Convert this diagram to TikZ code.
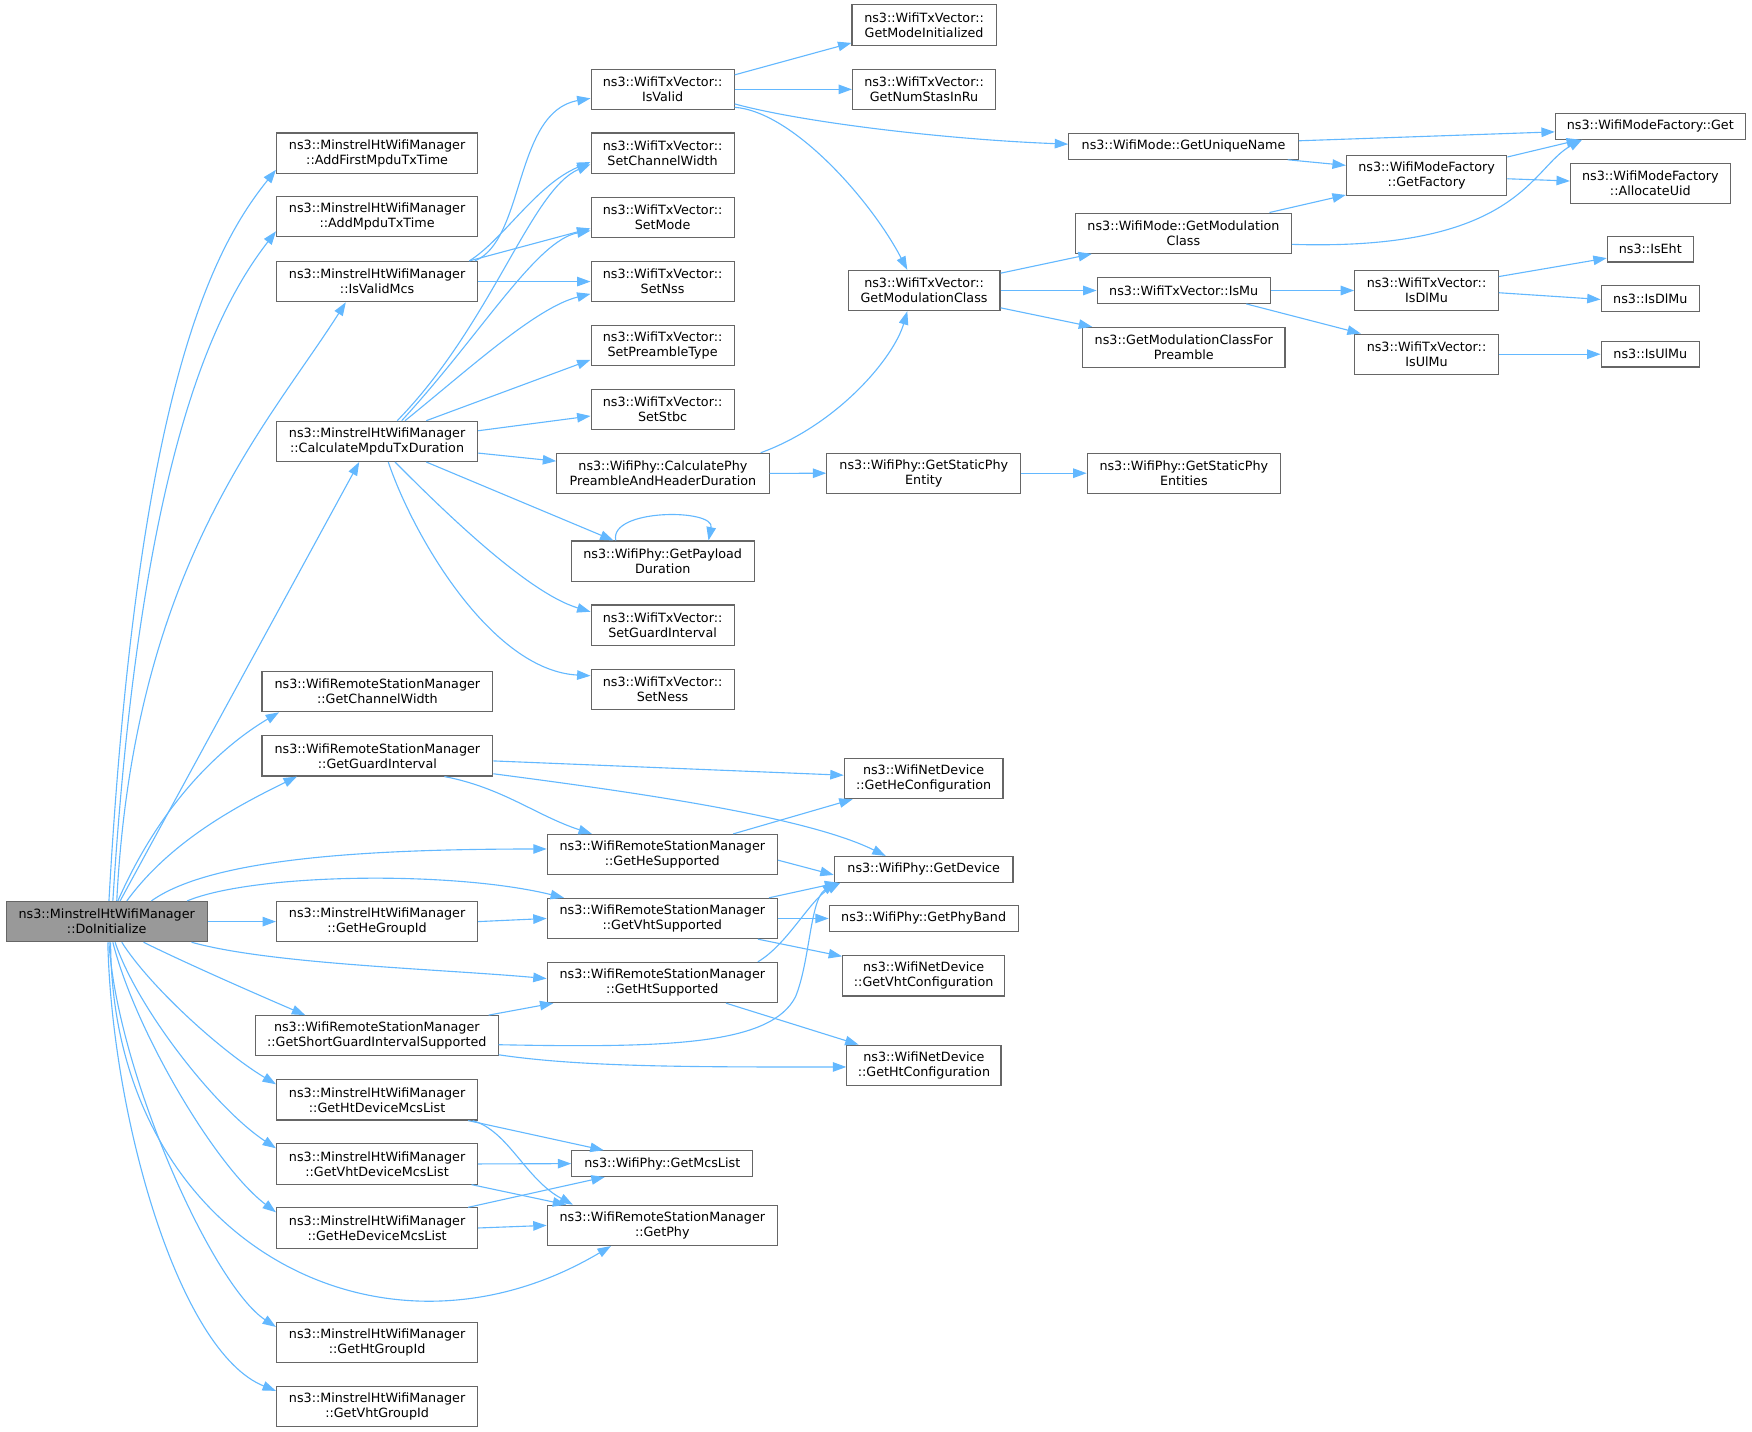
\documentclass[tikz,border=0pt]{standalone}
\usepackage{fontspec}
\setmainfont{DejaVu Sans}
\usetikzlibrary{arrows.meta}
\definecolor{edgeblue}{HTML}{63B8FF}
\definecolor{boxgray}{HTML}{666666}
\definecolor{rootfill}{HTML}{999999}
\begin{document}
\begin{tikzpicture}[x=1pt,y=1pt,
    fn/.style={draw=boxgray, fill=white, line width=1pt, align=center, inner sep=1pt,
      minimum height=36pt, font=\fontsize{11.4}{13.4}\selectfont},
    fn1/.style={fn, minimum height=23pt},
    edge/.style={draw=edgeblue, line width=1pt, -{Triangle[length=12pt,width=8.5pt]}}]
    \useasboundingbox (0,0) rectangle (1568,-1281.6);
    % column of the caller and its direct callees
    \node[fn, fill=rootfill, minimum width=180pt] (doinit) at (95.5,-824.8) {ns3::MinstrelHtWifiManager\\::DoInitialize};
    \node[fn, minimum width=180pt] (addfirst) at (337.5,-137) {ns3::MinstrelHtWifiManager\\::AddFirstMpduTxTime};
    \node[fn, minimum width=180pt] (addmpdu) at (337.5,-194) {ns3::MinstrelHtWifiManager\\::AddMpduTxTime};
    \node[fn, minimum width=180pt] (isvalidmcs) at (337.5,-252) {ns3::MinstrelHtWifiManager\\::IsValidMcs};
    \node[fn, minimum width=180pt] (calcmpdu) at (337.5,-395) {ns3::MinstrelHtWifiManager\\::CalculateMpduTxDuration};
    \node[fn, minimum width=206.5pt] (chanwidth) at (337.75,-619) {ns3::WifiRemoteStationManager\\::GetChannelWidth};
    \node[fn, minimum width=206.5pt] (guardint) at (337.75,-676.5) {ns3::WifiRemoteStationManager\\::GetGuardInterval};
    \node[fn, minimum width=180pt] (hegroup) at (337.5,-824.8) {ns3::MinstrelHtWifiManager\\::GetHeGroupId};
    \node[fn, minimum width=217.2pt] (shortgi) at (337.2,-927) {ns3::WifiRemoteStationManager\\::GetShortGuardIntervalSupported};
    \node[fn, minimum width=180pt] (htdevice) at (337.5,-984.4) {ns3::MinstrelHtWifiManager\\::GetHtDeviceMcsList};
    \node[fn, minimum width=180pt] (vhtdevice) at (337.5,-1041.7) {ns3::MinstrelHtWifiManager\\::GetVhtDeviceMcsList};
    \node[fn, minimum width=180pt] (hedevice) at (337.5,-1099) {ns3::MinstrelHtWifiManager\\::GetHeDeviceMcsList};
    \node[fn, minimum width=180pt] (htgroup) at (337.5,-1201.6) {ns3::MinstrelHtWifiManager\\::GetHtGroupId};
    \node[fn, minimum width=180pt] (vhtgroup) at (337.5,-1258.8) {ns3::MinstrelHtWifiManager\\::GetVhtGroupId};
    % second level
    \node[fn, minimum width=128pt] (isvalid) at (593,-80) {ns3::WifiTxVector::\\IsValid};
    \node[fn, minimum width=128pt] (setchw) at (593,-137) {ns3::WifiTxVector::\\SetChannelWidth};
    \node[fn, minimum width=128pt] (setmode) at (593,-194.4) {ns3::WifiTxVector::\\SetMode};
    \node[fn, minimum width=128pt] (setnss) at (593,-252) {ns3::WifiTxVector::\\SetNss};
    \node[fn, minimum width=128pt] (setpre) at (593,-309) {ns3::WifiTxVector::\\SetPreambleType};
    \node[fn, minimum width=128pt] (setstbc) at (593,-366.3) {ns3::WifiTxVector::\\SetStbc};
    \node[fn, minimum width=190pt] (calcphy) at (593.3,-423.7) {ns3::WifiPhy::CalculatePhy\\PreambleAndHeaderDuration};
    \node[fn, minimum width=164pt] (payload) at (593.1,-502.2) {ns3::WifiPhy::GetPayload\\Duration};
    \node[fn, minimum width=128pt] (setgi) at (593,-559.5) {ns3::WifiTxVector::\\SetGuardInterval};
    \node[fn, minimum width=128pt] (setness) at (593,-616.8) {ns3::WifiTxVector::\\SetNess};
    \node[fn, minimum width=206pt] (hesup) at (592.75,-764.8) {ns3::WifiRemoteStationManager\\::GetHeSupported};
    \node[fn, minimum width=206pt] (vhtsup) at (592.75,-822) {ns3::WifiRemoteStationManager\\::GetVhtSupported};
    \node[fn, minimum width=206pt] (htsup) at (592.75,-879.3) {ns3::WifiRemoteStationManager\\::GetHtSupported};
    \node[fn1, minimum width=162pt] (mcslist) at (592.75,-1041.4) {ns3::WifiPhy::GetMcsList};
    \node[fn, minimum width=206pt] (getphy) at (592.75,-1096.7) {ns3::WifiRemoteStationManager\\::GetPhy};
    % third level
    \node[fn, minimum width=129pt] (modeinit) at (827,-22.4) {ns3::WifiTxVector::\\GetModeInitialized};
    \node[fn, minimum width=128pt] (numstas) at (827,-80) {ns3::WifiTxVector::\\GetNumStasInRu};
    \node[fn, minimum width=136pt] (txmodclass) at (827,-260) {ns3::WifiTxVector::\\GetModulationClass};
    \node[fn, minimum width=173.5pt] (staticent) at (826.75,-423.5) {ns3::WifiPhy::GetStaticPhy\\Entity};
    \node[fn, minimum width=142pt] (heconf) at (826.6,-696.8) {ns3::WifiNetDevice\\::GetHeConfiguration};
    \node[fn1, minimum width=160pt] (getdevice) at (826.65,-778) {ns3::WifiPhy::GetDevice};
    \node[fn1, minimum width=169pt] (phyband) at (826.65,-822) {ns3::WifiPhy::GetPhyBand};
    \node[fn, minimum width=145pt] (vhtconf) at (826.65,-873.4) {ns3::WifiNetDevice\\::GetVhtConfiguration};
    \node[fn, minimum width=138pt] (htconf) at (826.9,-953.4) {ns3::WifiNetDevice\\::GetHtConfiguration};
    % fourth level and beyond
    \node[fn1, minimum width=205.5pt] (uniquename) at (1059.25,-131) {ns3::WifiMode::GetUniqueName};
    \node[fn, minimum width=193pt] (modemodclass) at (1059.15,-208.7) {ns3::WifiMode::GetModulation\\Class};
    \node[fn1, minimum width=155pt] (ismu) at (1059.4,-260) {ns3::WifiTxVector::IsMu};
    \node[fn, minimum width=181pt] (modclasspre) at (1059.5,-311) {ns3::GetModulationClassFor\\Preamble};
    \node[fn, minimum width=173pt] (staticents) at (1059.5,-423.5) {ns3::WifiPhy::GetStaticPhy\\Entities};
    \node[fn, minimum width=143.6pt] (getfactory) at (1276.8,-157) {ns3::WifiModeFactory\\::GetFactory};
    \node[fn, minimum width=128.6pt] (isdlmutx) at (1276.7,-260) {ns3::WifiTxVector::\\IsDlMu};
    \node[fn, minimum width=128.6pt] (isulmutx) at (1276.7,-317) {ns3::WifiTxVector::\\IsUlMu};
    \node[fn1, minimum width=170pt] (get) at (1477,-113) {ns3::WifiModeFactory::Get};
    \node[fn, minimum width=143pt] (allocuid) at (1477,-164) {ns3::WifiModeFactory\\::AllocateUid};
    \node[fn1, minimum width=77pt] (iseht) at (1477,-223) {ns3::IsEht};
    \node[fn1, minimum width=88pt] (isdlmu) at (1477,-267) {ns3::IsDlMu};
    \node[fn1, minimum width=88pt] (isulmu) at (1477,-317) {ns3::IsUlMu};
    % straight calls
    \foreach \a/\b in {doinit.east/hegroup.west, isvalidmcs.east/setnss.west,
      isvalid.east/numstas.west, txmodclass.east/ismu.west, ismu.east/isdlmutx.west,
      isulmutx.east/isulmu.west, calcphy.east/staticent.west, staticent.east/staticents.west,
      vhtsup.east/phyband.west, hegroup.east/vhtsup.west, vhtdevice.east/mcslist.west,
      hedevice.east/getphy.west}{
      \draw[edge] (\a) -- (\b);
    }
    % calls from DoInitialize
    \draw[edge] ([xshift=2pt]doinit.north) .. controls (122.7,-356.5) and (188,-225) .. ([yshift=-15pt]addfirst.west);
    \draw[edge] ([xshift=5.5pt]doinit.north) .. controls (126,-406.5) and (193,-277) .. ([yshift=-13pt]addmpdu.west);
    \draw[edge] ([xshift=9pt]doinit.north) .. controls (119.7,-506.5) and (240,-380) .. ([xshift=-28pt]isvalidmcs.south);
    \draw[edge] ([xshift=12pt]doinit.north) -- ([xshift=-16pt]calcmpdu.south);
    \draw[edge] ([xshift=10pt]doinit.north) .. controls (145,-716.5) and (200,-667) .. ([xshift=-88pt]chanwidth.south);
    \draw[edge] ([xshift=18pt]doinit.north) .. controls (153.4,-751.5) and (216,-719.5) .. ([xshift=-72pt]guardint.south);
    \draw[edge] ([xshift=40pt]doinit.north) .. controls (191,-766.5) and (339.8,-760) .. ([yshift=5pt]hesup.west);
    \draw[edge] ([xshift=72pt]doinit.north) .. controls (227,-781.5) and (405,-779) .. ([xshift=-88pt]vhtsup.north);
    \draw[edge] ([xshift=76pt]doinit.south) .. controls (241.6,-862.8) and (389.8,-867) .. ([yshift=3.5pt]htsup.west);
    \draw[edge] ([xshift=33pt]doinit.south) .. controls (168,-862.8) and (228,-889) .. ([xshift=-64pt]shortgi.north);
    \draw[edge] ([xshift=13.5pt]doinit.south) .. controls (134,-882.8) and (198,-941) .. ([yshift=14pt]htdevice.west);
    \draw[edge] ([xshift=7.5pt]doinit.south) .. controls (123,-902.8) and (193,-992) .. ([yshift=14pt]vhtdevice.west);
    \draw[edge] ([xshift=5.5pt]doinit.south) .. controls (121,-922.8) and (193,-1044) .. ([yshift=14pt]hedevice.west);
    \draw[edge] ([xshift=3.5pt]doinit.south) .. controls (100,-1110) and (340,-1238) .. ([xshift=-46pt]getphy.south);
    \draw[edge] ([xshift=2pt]doinit.south) .. controls (105,-960) and (190,-1150) .. ([yshift=14pt]htgroup.west);
    \draw[edge] ([xshift=1pt]doinit.south) .. controls (100,-1000) and (160,-1210) .. ([yshift=14pt]vhtgroup.west);
    % IsValidMcs and CalculateMpduTxDuration
    \draw[edge] ([xshift=-3pt]isvalidmcs.north east) .. controls (470,-215) and (460,-100) .. ([yshift=-8pt]isvalid.west);
    \draw[edge] ([xshift=-8pt]isvalidmcs.north east) .. controls (450,-215) and (480,-165) .. ([yshift=-8pt]setchw.west);
    \draw[edge] ([xshift=-8pt]isvalidmcs.north east) -- ([yshift=-10pt]setmode.west);
    \draw[edge] ([xshift=18pt]calcmpdu.north) .. controls (440,-290) and (475,-170) .. ([yshift=-10pt]setchw.west);
    \draw[edge] ([xshift=22pt]calcmpdu.north) .. controls (430,-300) and (480,-215) .. ([yshift=-12pt]setmode.west);
    \draw[edge] ([xshift=25pt]calcmpdu.north) .. controls (420,-330) and (480,-275) .. ([yshift=-11pt]setnss.west);
    \draw[edge] ([xshift=44pt]calcmpdu.north) -- ([yshift=-13pt]setpre.west);
    \draw[edge] ([yshift=-9pt]calcmpdu.north east) -- ([yshift=-6pt]setstbc.west);
    \draw[edge] ([yshift=8pt]calcmpdu.south east) -- ([yshift=11pt]calcphy.west);
    \draw[edge] ([xshift=44pt]calcmpdu.south) -- ([xshift=-44pt]payload.north);
    \draw[edge] ([xshift=16pt]calcmpdu.south) .. controls (390,-450) and (470,-530) .. ([yshift=12pt]setgi.west);
    \draw[edge] ([xshift=10pt]calcmpdu.south) .. controls (370,-480) and (440,-600) .. ([yshift=12pt]setness.west);
    \draw[edge] ([xshift=-42pt]payload.north) .. controls (545,-455) and (640,-455) .. ([xshift=41pt]payload.north);
    % WifiTxVector and WifiMode
    \draw[edge] ([yshift=13pt]isvalid.east) -- ([yshift=-16pt]modeinit.west);
    \draw[edge] ([yshift=-13pt]isvalid.east) .. controls (720,-110) and (850,-125) .. ([yshift=2pt]uniquename.west);
    \draw[edge] ([yshift=-16pt]isvalid.east) .. controls (710,-100) and (780,-180) .. ([xshift=-15pt]txmodclass.north);
    \draw[edge] ([xshift=-8pt]calcphy.north east) .. controls (750,-380) and (800,-320) .. ([xshift=-15pt]txmodclass.south);
    \draw[edge] ([yshift=5pt]uniquename.east) -- ([yshift=-5pt]get.west);
    \draw[edge] ([xshift=-10pt]uniquename.south east) -- ([yshift=9pt]getfactory.west);
    \draw[edge] ([yshift=-2pt]getfactory.north east) -- ([xshift=-63pt]get.south);
    \draw[edge] ([yshift=-3pt]getfactory.east) -- ([yshift=2pt]allocuid.west);
    \draw[edge] ([xshift=77pt]modemodclass.north) -- ([yshift=1pt]getfactory.south west);
    \draw[edge] ([yshift=-10pt]modemodclass.east) .. controls (1360,-225) and (1370,-150) .. ([xshift=-61pt]get.south);
    \draw[edge] ([yshift=-3pt]txmodclass.north east) -- ([xshift=15pt]modemodclass.south west);
    \draw[edge] ([yshift=3pt]txmodclass.south east) -- ([xshift=9pt]modclasspre.north west);
    \draw[edge] ([xshift=-22pt]ismu.south east) -- ([xshift=6pt]isulmutx.north west);
    \draw[edge] ([yshift=-6pt]isdlmutx.north east) -- ([yshift=-8pt]iseht.west);
    \draw[edge] ([yshift=-2pt]isdlmutx.east) -- ([yshift=-1pt]isdlmu.west);
    % station manager queries
    \draw[edge] ([yshift=-4.5pt]guardint.east) -- ([yshift=3pt]heconf.west);
    \draw[edge] ([yshift=-16pt]guardint.east) .. controls (560,-708) and (720,-730) .. ([xshift=-34pt]getdevice.north);
    \draw[edge] ([xshift=60pt]guardint.south) .. controls (450,-705) and (480,-730) .. ([xshift=-63pt]hesup.north);
    \draw[edge] ([xshift=-40pt]hesup.north east) -- ([xshift=8pt]heconf.south west);
    \draw[edge] ([yshift=-5pt]hesup.east) -- ([yshift=-5pt]getdevice.west);
    \draw[edge] ([xshift=-8pt]vhtsup.north east) -- ([xshift=4pt]getdevice.south west);
    \draw[edge] ([xshift=-18pt]vhtsup.south east) -- ([yshift=-1pt]vhtconf.north west);
    \draw[edge] ([xshift=-18pt]htsup.north east) .. controls (705,-845) and (725,-805) .. ([xshift=6pt]getdevice.south west);
    \draw[edge] ([xshift=57pt]htsup.south) -- ([xshift=11pt]htconf.north west);
    \draw[edge] ([xshift=-9pt]shortgi.north east) -- ([xshift=6pt]htsup.south west);
    \draw[edge] ([yshift=-8pt]shortgi.east) .. controls (600,-938) and (690,-935) .. (712,-892)
      .. controls (725,-860) and (725,-805) .. ([xshift=2pt]getdevice.south west);
    \draw[edge] ([yshift=-17pt]shortgi.east) .. controls (520,-955) and (620,-955) .. ([yshift=-1.5pt]htconf.west);
    % MCS lists
    \draw[edge] ([xshift=-9pt]htdevice.south east) -- ([xshift=29pt]mcslist.north west);
    \draw[edge] ([xshift=-5pt]htdevice.south east) .. controls (455,-1012) and (470,-1055) .. ([xshift=-80pt]getphy.north);
    \draw[edge] ([xshift=-6pt]vhtdevice.south east) -- ([xshift=-86pt]getphy.north);
    \draw[edge] ([xshift=-9pt]hedevice.north east) -- ([xshift=30pt]mcslist.south west);
  \end{tikzpicture}
\end{document}
